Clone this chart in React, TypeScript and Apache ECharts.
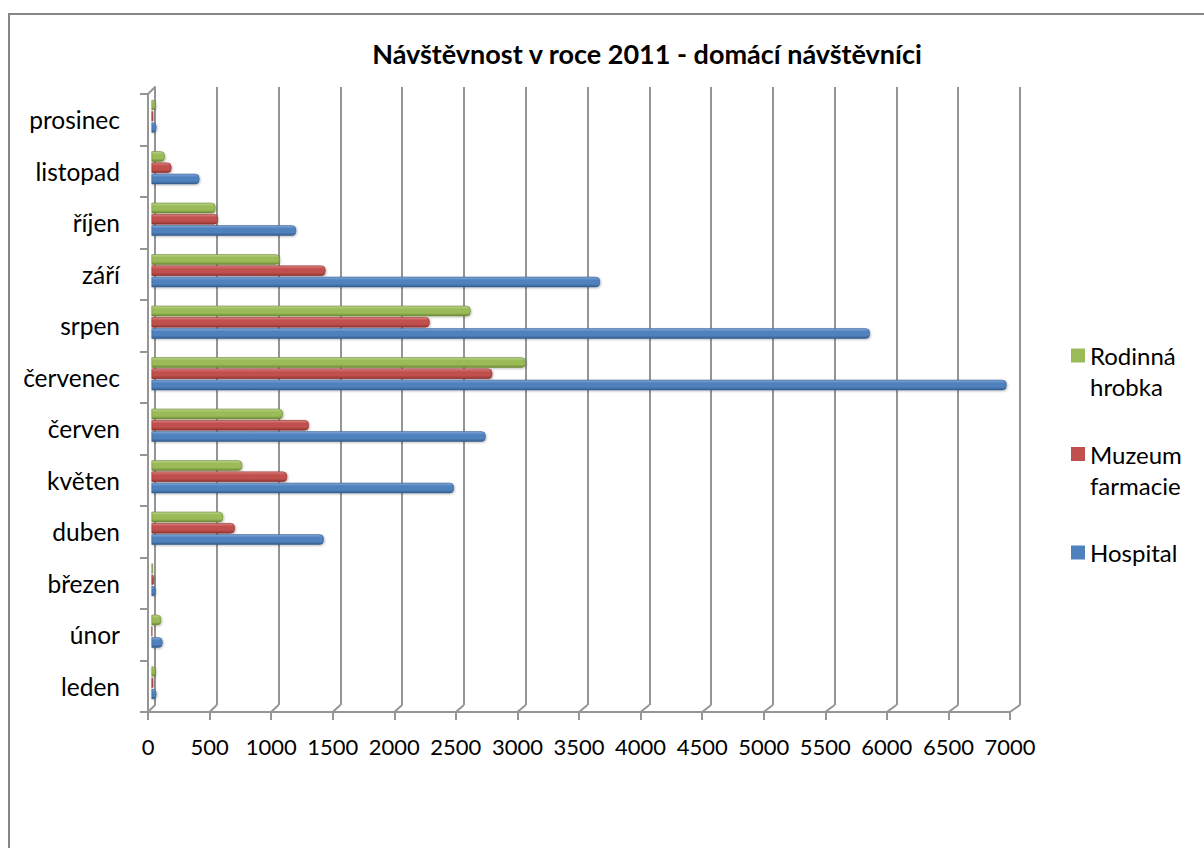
import React, { useEffect, useRef } from 'react';
import * as echarts from 'echarts';

const chartTitle = 'Návštěvnost v roce 2011 - domácí návštěvníci';
const months = ['leden', 'únor', 'březen', 'duben', 'květen', 'červen', 'červenec', 'srpen', 'září', 'říjen', 'listopad', 'prosinec'];
const seriesNames = ['Rodinná hrobka', 'Muzeum farmacie', 'Hospital'];
const rodinnaHrobka = [32, 79, 11, 581, 735, 1065, 3033, 2587, 1038, 519, 108, 32];
const muzeumFarmacie = [14, 6, 19, 676, 1100, 1276, 2763, 2255, 1411, 538, 162, 14];
const hospital = [40, 90, 32, 1397, 2452, 2709, 6932, 5824, 3636, 1173, 389, 40];
const xMin = 0;
const xMax = 7000;
const xStep = 500;

const FONT = 'Lato, "Open Sans", sans-serif';
const FRONT = { left: 148, top: 94, width: 862, height: 618 };
const BACK = { left: 155, top: 87, width: 865, height: 618 };
const MID = { left: 151.5, top: 90.5, width: 863.5, height: 618 };

const palette = [
  { light: '#BCD78F', base: '#9BBB59', dark: '#6E8A36' },
  { light: '#DD8683', base: '#C0504D', dark: '#8E3331' },
  { light: '#86AADB', base: '#4F81BD', dark: '#355E8F' },
];

function barColor(i: number) {
  const p = palette[i];
  return new echarts.graphic.LinearGradient(0, 0, 0, 1, [
    { offset: 0, color: p.light },
    { offset: 0.3, color: p.base },
    { offset: 0.7, color: p.base },
    { offset: 1, color: p.dark },
  ]);
}

export default function App() {
  const ref = useRef<HTMLDivElement>(null);
  useEffect(() => {
    if (!ref.current) return;
    const chart = echarts.init(ref.current, null, { renderer: 'svg' });
    const values = [rodinnaHrobka, muzeumFarmacie, hospital];
    const gridLineColor = '#959595';
    chart.setOption({
      animation: false,
      textStyle: { fontFamily: FONT },
      grid: [
        { ...FRONT, containLabel: false },
        { ...BACK, containLabel: false },
        { ...MID, containLabel: false },
      ],
      legend: {
        orient: 'vertical',
        left: 1071,
        top: 309,
        padding: 0,
        itemGap: 5.5,
        itemWidth: 14,
        itemHeight: 14,
        icon: 'rect',
        data: seriesNames.map((name, i) => ({
          name,
          itemStyle: { color: palette[i].base, borderWidth: 0, shadowBlur: 0, shadowOffsetX: 0, shadowOffsetY: 0 },
        })),
        formatter: (name: string) => {
          const parts = name.split(' ');
          return '\u00a0\n' + parts[0] + '\n' + (parts.slice(1).join(' ') || '\u00a0');
        },
        textStyle: { fontFamily: FONT, fontSize: 24, color: '#000', lineHeight: 31 },
      },
      xAxis: [
        {
          gridIndex: 0, type: 'value', min: xMin, max: xMax, interval: xStep,
          axisLine: { show: true, lineStyle: { color: gridLineColor, width: 2 } },
          axisTick: { show: true, length: 8, lineStyle: { color: gridLineColor, width: 2 } },
          axisLabel: { show: true, fontSize: 22, color: '#000', margin: 23, fontFamily: FONT, formatter: (v: number) => String(v) },
          splitLine: { show: false },
        },
        {
          gridIndex: 1, type: 'value', min: xMin, max: xMax, interval: xStep,
          axisLine: { show: false }, axisTick: { show: false }, axisLabel: { show: false },
          splitLine: { show: true, lineStyle: { color: gridLineColor, width: 2 } },
        },
        {
          gridIndex: 2, type: 'value', min: xMin, max: xMax, interval: xStep,
          show: false,
        },
      ],
      yAxis: [
        {
          gridIndex: 0, type: 'category', data: months,
          axisLine: { show: true, lineStyle: { color: gridLineColor, width: 2 } },
          axisTick: { show: true, length: 8, lineStyle: { color: gridLineColor, width: 2 } },
          axisLabel: { fontSize: 24.5, color: '#000', margin: 28, fontFamily: FONT },
          splitLine: { show: false },
        },
        {
          gridIndex: 1, type: 'category', data: months,
          axisLine: { show: true, lineStyle: { color: gridLineColor, width: 2 } },
          axisTick: { show: false }, axisLabel: { show: false }, splitLine: { show: false },
        },
        {
          gridIndex: 2, type: 'category', data: months, show: false,
        },
      ],
      series: seriesNames.map((name, i) => ({
        name,
        type: 'bar',
        xAxisIndex: 2,
        yAxisIndex: 2,
        data: values[i],
        barCategoryGap: '36%',
        barGap: '8%',
        itemStyle: {
          color: barColor(i),
          borderColor: palette[i].dark,
          borderWidth: 0.6,
          borderRadius: [0, 4, 4, 0],
          shadowColor: 'rgba(0,0,0,0.25)',
          shadowBlur: 2,
          shadowOffsetX: 1,
          shadowOffsetY: 1,
        },
        emphasis: { disabled: true },
      })),
    });

    const frontBottom = FRONT.top + FRONT.height;
    const backBottom = BACK.top + BACK.height;
    const diag: any[] = [];
    for (let v = xMin; v <= xMax; v += xStep) {
      const fx = chart.convertToPixel({ xAxisIndex: 0 }, v) as number;
      const bx = chart.convertToPixel({ xAxisIndex: 1 }, v) as number;
      diag.push({
        type: 'line', silent: true,
        shape: { x1: fx, y1: frontBottom, x2: bx, y2: backBottom },
        style: { stroke: gridLineColor, lineWidth: 2 },
      });
    }
    diag.push({
      type: 'line', silent: true,
      shape: { x1: FRONT.left, y1: FRONT.top, x2: BACK.left, y2: BACK.top },
      style: { stroke: gridLineColor, lineWidth: 2 },
    });
    chart.setOption({
      graphic: [
        {
          type: 'rect', silent: true,
          shape: { x: 9, y: 14, width: 1300, height: 1000 },
          style: { fill: 'none', stroke: '#868686', lineWidth: 2 },
        },
        {
          type: 'text', silent: true, x: 647, y: 53,
          style: {
            text: chartTitle, fontFamily: FONT, fontWeight: 'bold', fontSize: 27,
            fill: '#000', textAlign: 'center', textVerticalAlign: 'middle',
          },
        },
        ...diag,
      ],
    });
    return () => chart.dispose();
  }, []);
  return (
    <div
      ref={ref}
      style={{ position: 'fixed', left: 0, top: 0, width: 1204, height: 848, background: '#fff' }}
    />
  );
}
